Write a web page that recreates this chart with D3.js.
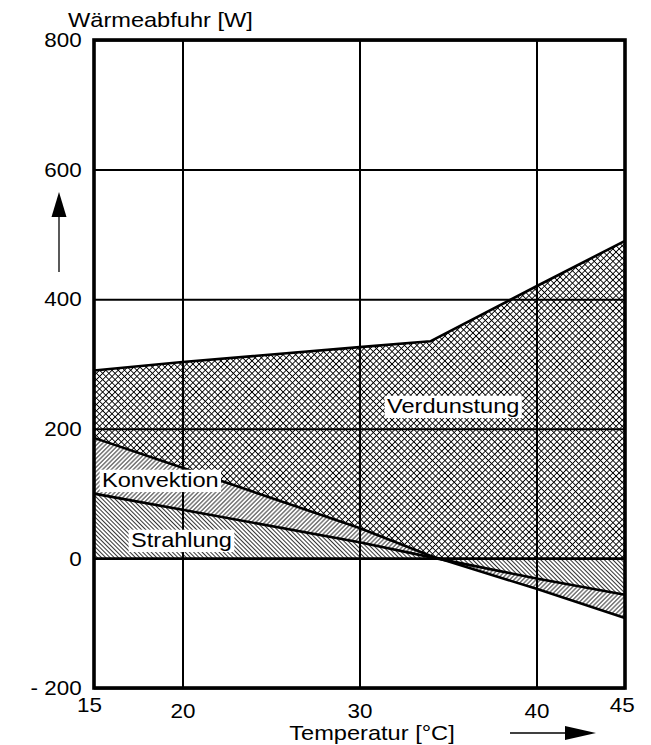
<!DOCTYPE html>
<html>
<head>
<meta charset="utf-8">
<script src="https://cdn.jsdelivr.net/npm/d3@7/dist/d3.min.js"></script>
<style>
  html, body { margin: 0; padding: 0; background: #fff; }
  svg { display: block; }
  text { font-family: "Liberation Sans", Arial, sans-serif; fill: #000; }
</style>
</head>
<body>
<svg id="chart" width="651" height="745"></svg>
<script>
// Heat dissipation components over air temperature
const temps       = [15, 20, 30, 34, 40, 45];
const strahlung   = [100, 75, 25, 2, -31, -56];
const konvektion  = [86, 65, 22, 2, -16, -36];
const verdunstung = [104, 163, 279, 331, 467, 582];

const xTicks = [15, 20, 30, 40, 45];
const yTicks = [-200, 0, 200, 400, 600, 800];
const seriesKeys = ["strahlung", "konvektion", "verdunstung"];
const seriesNames = ["Strahlung", "Konvektion", "Verdunstung"];

const W = 651, H = 745;
const plot = { left: 94, right: 625, top: 40, bottom: 688 };
const STRETCH = 1.18;   // wide grotesque lettering

const svg = d3.select("#chart");

const x = d3.scaleLinear().domain([15, 45]).range([plot.left, plot.right]);
const y = d3.scaleLinear().domain([-200, 800]).range([plot.bottom, plot.top]);

// hatch patterns
const defs = svg.append("defs");
function hatch(id, size, angle, cross, sw) {
  const p = defs.append("pattern")
    .attr("id", id)
    .attr("patternUnits", "userSpaceOnUse")
    .attr("width", size).attr("height", size)
    .attr("patternTransform", `rotate(${angle})`);
  p.append("rect").attr("width", size).attr("height", size).attr("fill", "#fff");
  let d = `M0,${size / 2}H${size}`;
  if (cross) d += `M${size / 2},0V${size}`;
  p.append("path").attr("d", d).attr("stroke", "#000").attr("stroke-width", sw);
}
hatch("pat-verdunstung", 4.4, 45, true, 0.9);
hatch("pat-konvektion", 3.1, -45, false, 0.8);
hatch("pat-strahlung", 3.0, 45, false, 0.8);

// stacked bands
const rows = temps.map((t, i) => ({
  t, strahlung: strahlung[i], konvektion: konvektion[i], verdunstung: verdunstung[i]
}));
const stacked = d3.stack().keys(seriesKeys)(rows);

const area = d3.area()
  .x(d => x(d.data.t))
  .y0(d => y(d[0]))
  .y1(d => y(d[1]));

const bands = svg.append("g");
// evaporation first; the negative radiation / convection bands are laid over it
[2, 1, 0].forEach(k => {
  bands.append("path")
    .datum(stacked[k])
    .attr("d", area)
    .attr("fill", `url(#pat-${seriesKeys[k]})`);
});

// grid through the axes
const yAxis = d3.axisLeft(y)
  .tickValues(yTicks)
  .tickSizeInner(-(plot.right - plot.left))
  .tickSizeOuter(0)
  .tickPadding(11)
  .tickFormat(v => v < 0 ? "- " + Math.abs(v) : String(v));

const gy = svg.append("g")
  .attr("transform", `translate(${plot.left},0)`)
  .call(yAxis);
gy.select(".domain").remove();
gy.selectAll(".tick line").attr("stroke", "#000").attr("stroke-width", 2);
gy.selectAll(".tick text")
  .attr("font-size", 20)
  .attr("font-family", "Liberation Sans, Arial, sans-serif")
  .attr("fill", "#000")
  .attr("dy", "0.33em")
  .attr("transform", `scale(${STRETCH * 0.95},1)`);

const xAxis = d3.axisBottom(x)
  .tickValues(xTicks)
  .tickSizeInner(-(plot.bottom - plot.top))
  .tickSizeOuter(0)
  .tickPadding(16)
  .tickFormat(d3.format("d"));

const gx = svg.append("g")
  .attr("transform", `translate(0,${plot.bottom})`)
  .call(xAxis);
gx.select(".domain").remove();
gx.selectAll(".tick line")
  .attr("stroke", "#000").attr("stroke-width", 2)
  .attr("display", d => (d === 15 || d === 45) ? "none" : null);
gx.selectAll(".tick text")
  .attr("font-size", 20)
  .attr("font-family", "Liberation Sans, Arial, sans-serif")
  .attr("fill", "#000")
  .attr("x", d => d === 15 ? -4.5 : d === 45 ? -3 : 0)
  .attr("y", d => (d === 15 || d === 45) ? 10 : 16)
  .attr("transform", `scale(${STRETCH * 0.95},1)`);

// boundary lines of the stacked bands
const line = d3.line().x(d => x(d.data.t)).y(d => y(d[1]));
stacked.forEach(s => {
  svg.append("path")
    .datum(s)
    .attr("d", line)
    .attr("fill", "none")
    .attr("stroke", "#000")
    .attr("stroke-width", 2.6)
    .attr("stroke-linejoin", "round");
});

// zero line
svg.append("line")
  .attr("x1", plot.left).attr("x2", plot.right)
  .attr("y1", y(0)).attr("y2", y(0))
  .attr("stroke", "#000").attr("stroke-width", 2.4);

// frame
svg.append("rect")
  .attr("x", plot.left).attr("y", plot.top)
  .attr("width", plot.right - plot.left)
  .attr("height", plot.bottom - plot.top)
  .attr("fill", "none").attr("stroke", "#000").attr("stroke-width", 3.6);

// stretched text helper
function label(txt, px, py, anchor, boxed) {
  const g = svg.append("g").attr("transform", `translate(${px},${py}) scale(${STRETCH},1)`);
  const rect = boxed ? g.append("rect").attr("fill", "#fff") : null;
  const t = g.append("text")
    .attr("font-size", 20)
    .attr("text-anchor", anchor || "start")
    .text(txt);
  if (rect) {
    const b = t.node().getBBox();
    rect.attr("x", b.x - 2).attr("y", b.y + 1)
      .attr("width", b.width + 4).attr("height", b.height - 0.5);
  }
  return g;
}

// series labels on white boxes
const labelPos = [
  { x: 131, y: 547 },
  { x: 102, y: 487 },
  { x: 387, y: 413 }
];
seriesNames.forEach((n, i) => label(n, labelPos[i].x, labelPos[i].y, "start", true));

// axis titles
label("Wärmeabfuhr [W]", 68, 27, "start", false);
label("Temperatur [°C]", 372, 740, "middle", false);

// direction arrows
svg.append("line")
  .attr("x1", 59).attr("x2", 59).attr("y1", 272).attr("y2", 214)
  .attr("stroke", "#000").attr("stroke-width", 1.3);
svg.append("path")
  .attr("d", "M59,192 L51.5,217 L66.5,217 Z")
  .attr("fill", "#000");

svg.append("line")
  .attr("x1", 510).attr("x2", 568).attr("y1", 733).attr("y2", 733)
  .attr("stroke", "#000").attr("stroke-width", 1.3);
svg.append("path")
  .attr("d", "M596,733 L565,726 L565,740 Z")
  .attr("fill", "#000");
</script>
</body>
</html>
